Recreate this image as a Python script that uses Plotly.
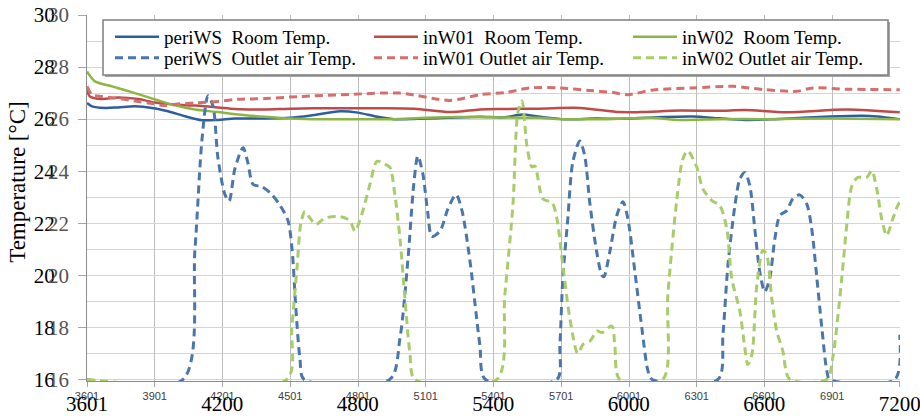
import plotly.graph_objects as go

# ---------------- data ----------------
x_small_ticks = [3601, 3901, 4201, 4501, 4801, 5101, 5401, 5701, 6001, 6301, 6601, 6901, 7200]
x_small_text = ["3601", "3901", "4201", "4501", "4801", "5101", "5401", "5701", "6001", "6301", "6601", "6901", ""]
x_big_ticks = [3601, 4200, 4800, 5400, 6000, 6600, 7200]
x_big_text = ["3601", "4200", "4800", "5400", "6000", "6600", "7200"]
y_ticks = [16, 18, 20, 22, 24, 26, 28, 30]

# periWS room temperature
periws_room_t = [3601, 3623, 3681, 3738, 3813, 3889, 3960, 4035, 4110, 4181, 4256, 4389, 4500, 4600,
                 4721, 4800, 4880, 4960, 5100, 5200, 5341, 5451, 5527, 5600, 5708, 5850, 5996, 6151,
                 6284, 6400, 6514, 6650, 6890, 7036, 7100, 7200]
periws_room_v = [26.62, 26.49, 26.43, 26.45, 26.49, 26.43, 26.30, 26.11, 25.96, 25.97, 26.02, 26.02, 26.05, 26.15,
                 26.30, 26.25, 26.10, 26.00, 26.02, 26.05, 26.09, 26.07, 26.18, 26.10, 26.00, 26.02, 26.02, 26.08,
                 26.10, 26.03, 25.97, 26.00, 26.10, 26.13, 26.10, 26.00]

# inW01 room temperature
inw01_room_t = [3601, 3614, 3667, 3738, 3827, 3902, 3991, 4079, 4181, 4256, 4389, 4500, 4700, 4900,
                5050, 5208, 5341, 5429, 5600, 5783, 5960, 6050, 6226, 6400, 6514, 6700, 6965, 7200]
inw01_room_v = [27.12, 26.87, 26.77, 26.83, 26.77, 26.64, 26.56, 26.52, 26.45, 26.39, 26.37, 26.40, 26.42, 26.42,
                26.40, 26.27, 26.37, 26.39, 26.40, 26.43, 26.27, 26.27, 26.33, 26.32, 26.35, 26.26, 26.37, 26.26]

# inW02 room temperature
inw02_room_t = [3601, 3636, 3712, 3813, 3902, 3977, 4079, 4181, 4269, 4389, 4500, 4600, 4800, 4950,
                5100, 5250, 5400, 5600, 5700, 5900, 6100, 6226, 6400, 6600, 6900, 7200]
inw02_room_v = [27.83, 27.45, 27.26, 27.00, 26.76, 26.56, 26.37, 26.27, 26.18, 26.09, 26.02, 26.00, 26.00, 26.00,
                26.05, 26.08, 26.07, 26.05, 26.00, 26.00, 26.05, 25.97, 26.00, 26.00, 26.02, 26.00]

# periWS outlet air temperature
periws_out_t = [3601, 4026, 4079, 4110, 4137, 4159, 4181, 4212, 4230, 4256, 4292, 4314, 4336, 4376, 4420,
                4455, 4491, 4509, 4526, 4544, 4562,
                4942, 4987, 5022, 5048, 5066, 5088, 5110, 5128, 5164, 5199, 5235, 5261, 5296, 5323, 5341, 5365,
                5682, 5695, 5708, 5730, 5752, 5783, 5805, 5827, 5858, 5881, 5890, 5916, 5947, 5974, 5996,
                6027, 6058, 6085, 6103,
                6395, 6417, 6439, 6470, 6492, 6514, 6536, 6558, 6580, 6602, 6624, 6647, 6669, 6700, 6726,
                6757, 6788, 6810, 6833, 6855, 6877, 6890,
                7178, 7200]
periws_out_v = [16.0, 16.0, 21.0, 25.2, 26.9, 26.5, 24.5, 23.1, 22.85, 24.1, 24.9, 24.3, 23.5, 23.4, 23.1,
                22.7, 22.1, 21.0, 18.7, 16.8, 16.0,
                16.0, 17.6, 20.6, 23.5, 24.58, 23.9, 22.4, 21.5, 21.7, 22.55, 23.1, 22.5, 20.6, 18.6, 17.3, 16.0,
                16.0, 17.34, 19.88, 22.17, 24.34, 25.16, 24.59, 22.81, 20.9, 20.0, 19.95, 20.9, 22.3, 22.83, 22.17,
                20.14, 17.97, 16.33, 16.0,
                16.0, 17.72, 20.39, 22.68, 23.7, 23.95, 23.44, 21.79, 20.14, 19.37, 19.88, 21.41, 22.3, 22.49, 22.93,
                23.09, 22.74, 21.79, 19.88, 17.97, 16.33, 16.0,
                16.0, 17.72]

# inW01 outlet air temperature
inw01_out_t = [3601, 3623, 3667, 3738, 3827, 3889, 3946, 4004, 4079, 4181, 4269, 4389, 4544, 4765, 4987,
               5208, 5341, 5460, 5562, 5695, 5827, 5929, 5996, 6107, 6284, 6461, 6594, 6744, 6815, 6965, 7200]
inw01_out_v = [27.26, 26.94, 26.87, 26.80, 26.68, 26.60, 26.52, 26.58, 26.62, 26.68, 26.76, 26.79, 26.87, 26.95, 27.00,
               26.72, 26.94, 27.03, 27.20, 27.20, 27.10, 27.02, 26.94, 27.12, 27.20, 27.26, 27.14, 27.07, 27.20, 27.15, 27.13]

# inW02 outlet air temperature
inw02_out_t = [3601, 4486, 4508, 4531, 4548, 4566, 4588, 4615, 4655, 4721, 4765, 4787, 4818, 4854, 4885,
               4920, 4942, 4964, 4987, 5009, 5031, 5053,
               5416, 5451, 5487, 5509, 5527, 5549, 5571, 5584, 5620, 5660, 5682, 5708, 5739, 5774, 5797,
               5828, 5859, 5881, 5925, 5938, 5960,
               6151, 6173, 6213, 6239, 6261, 6301, 6328, 6368, 6403, 6434, 6456, 6492, 6514, 6527, 6545,
               6567, 6594, 6611, 6633, 6655, 6682, 6713,
               6877, 6903, 6943, 6965, 6988, 7014, 7054, 7076, 7098, 7120, 7142, 7169, 7191, 7200]
inw02_out_v = [16.0, 16.0, 18.0, 20.3, 22.0, 22.45, 22.2, 21.96, 22.2, 22.25, 22.1, 21.7, 22.35, 23.5, 24.38,
               24.27, 24.15, 23.12, 21.4, 19.1, 17.0, 16.0,
               16.0, 19.24, 22.7, 26.25, 26.7, 24.97, 24.16, 24.2, 22.93, 22.8, 22.17, 20.39, 18.35, 17.0, 17.34,
               17.47, 17.86, 17.8, 18.05, 17.34, 16.0,
               16.0, 19.24, 22.93, 24.46, 24.78, 24.16, 23.32, 22.87, 22.68, 21.79, 19.88, 18.62, 17.2, 16.57, 16.95,
               19.63, 20.96, 20.77, 19.12, 17.86, 17.1, 16.0,
               16.0, 16.83, 19.88, 21.92, 23.44, 23.76, 23.76, 24.02, 23.32, 22.17, 21.53, 22.17, 22.68, 22.8]

NB = "\u00a0"
# name, t, v, colour, dash, width, axes, legend
series = [
    ("periWS" + NB + NB + "Room Temp.", periws_room_t, periws_room_v, "#2F5E9E", "solid", 2.5, "x", "y", "legend"),
    ("inW01" + NB + NB + "Room Temp.", inw01_room_t, inw01_room_v, "#BE4B48", "solid", 2.5, "x", "y", "legend"),
    ("inW02" + NB + NB + "Room Temp.", inw02_room_t, inw02_room_v, "#8DB545", "solid", 2.5, "x", "y", "legend"),
    ("periWS" + NB + NB + "Outlet air Temp.", periws_out_t, periws_out_v, "#4A76AC", "8px,5px", 3, "x2", "y2", "legend2"),
    ("inW01 Outlet air Temp.", inw01_out_t, inw01_out_v, "#D46F6D", "8px,5px", 3, "x2", "y2", "legend2"),
    ("inW02 Outlet air Temp.", inw02_out_t, inw02_out_v, "#A9CC6B", "8px,5px", 3, "x2", "y2", "legend2"),
]

fig = go.Figure()
for name, t, v, col, dash, w, xa, ya, lg in series:
    fig.add_trace(go.Scatter(x=t, y=v, name=name, mode="lines", xaxis=xa, yaxis=ya, legend=lg,
                             line=dict(color=col, dash=dash, width=w, shape="spline", smoothing=0.8)))

serif = "Liberation Serif, Times New Roman, serif"
Y_RANGE = [15.94, 30.0]
X_RANGE = [3601, 7201]

# geometry helpers (pixels -> paper) for the legend frame
PL, PR, PT, PB = 87, 900, 15, 381
def px_x(p):
    return (p - PL) / (PR - PL)
def px_y(p):
    return (PB - p) / (PB - PT)

legend_common = dict(orientation="h", xanchor="left", yanchor="middle",
                     bgcolor="rgba(0,0,0,0)", borderwidth=0,
                     font=dict(family=serif, size=19, color="black"),
                     entrywidth=200, entrywidthmode="pixels", itemwidth=44, traceorder="normal")

fig.update_layout(
    width=920, height=420,
    margin=dict(l=PL, r=920 - PR, t=PT, b=420 - PB),
    paper_bgcolor="white", plot_bgcolor="white",
    showlegend=True,
    legend=dict(x=px_x(110), y=px_y(37), **legend_common),
    legend2=dict(x=px_x(110), y=px_y(58), **legend_common),
    xaxis=dict(range=X_RANGE, tickmode="array", tickvals=x_small_ticks, ticktext=x_small_text,
               tickfont=dict(family="Liberation Sans, Arial", size=11, color="#404040"),
               showgrid=True, gridcolor="#BDBDBD", gridwidth=1, zeroline=False, automargin=False,
               ticks="outside", ticklen=5, tickcolor="#A6A6A6",
               showline=True, linecolor="#8C8C8C", linewidth=1),
    xaxis2=dict(range=X_RANGE, overlaying="x", side="bottom", tickmode="array",
                tickvals=x_big_ticks, ticktext=x_big_text, automargin=False,
                ticklabeloverflow="allow",
                tickfont=dict(family=serif, size=21, color="black"),
                showgrid=False, zeroline=False, ticks="", ticklabelstandoff=8, showline=False),
    yaxis=dict(range=Y_RANGE, tickmode="array", tickvals=y_ticks, automargin=False,
               tickfont=dict(family=serif, size=21, color="black"),
               showgrid=True, gridcolor="#D4D4D4", gridwidth=1, zeroline=False,
               minor=dict(dtick=1, tick0=0, showgrid=True, gridcolor="#D4D4D4", gridwidth=1, ticks=""),
               ticks="outside", ticklen=8, tickcolor="#A6A6A6", ticklabelstandoff=19,
               showline=True, linecolor="#8C8C8C", linewidth=1),
    yaxis2=dict(range=Y_RANGE, overlaying="y", side="left", tickmode="array", tickvals=y_ticks,
                tickfont=dict(family=serif, size=21, color="#555555"), automargin=False,
                showgrid=False, zeroline=False, ticks="", ticklabelstandoff=17, showline=False),
    annotations=[dict(text="Temperature [°C]", textangle=-90, xref="paper", yref="paper",
                      x=-0.085, y=0.544, xanchor="center", yanchor="middle", showarrow=False,
                      font=dict(family=serif, size=23, color="black"))],
    shapes=[
        dict(type="rect", xref="paper", yref="paper", layer="above",
             x0=px_x(105), x1=px_x(890), y0=px_y(77), y1=px_y(22),
             fillcolor="#A6A6A6", line=dict(width=0)),
        dict(type="rect", xref="paper", yref="paper", layer="above",
             x0=px_x(103), x1=px_x(888), y0=px_y(75), y1=px_y(20),
             fillcolor="white", line=dict(color="#7F7F7F", width=1.5)),
    ],
)

fig.write_html("out.html")
